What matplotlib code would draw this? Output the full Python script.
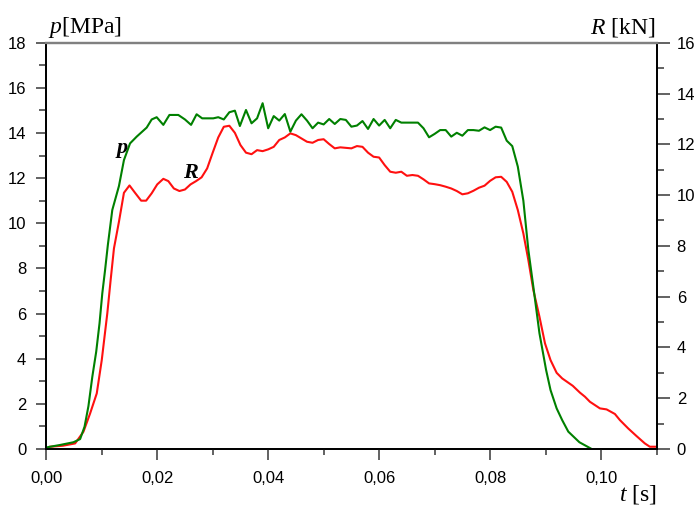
import numpy as np
import matplotlib.pyplot as plt
from matplotlib.ticker import MultipleLocator, FuncFormatter

# p [MPa] - lewa os
t_p = [0.0, 0.0025, 0.0049, 0.0061, 0.0069, 0.0076, 0.0083, 0.009, 0.0096, 0.0101,
       0.0106, 0.0111, 0.0119, 0.0131, 0.014, 0.0151, 0.0163, 0.0181, 0.019, 0.0199,
       0.0211, 0.0222, 0.0238, 0.025, 0.0261, 0.0271, 0.0281, 0.0301, 0.031, 0.032,
       0.033, 0.034, 0.0349, 0.036, 0.037, 0.038, 0.039, 0.040, 0.041, 0.042,
       0.043, 0.044, 0.045, 0.046, 0.047, 0.048, 0.049, 0.050, 0.051, 0.052,
       0.053, 0.054, 0.055, 0.056, 0.057, 0.058, 0.059, 0.060, 0.061, 0.062,
       0.063, 0.064, 0.065, 0.066, 0.067, 0.068, 0.069, 0.070, 0.071, 0.072,
       0.073, 0.074, 0.075, 0.076, 0.077, 0.078, 0.079, 0.080, 0.081, 0.082,
       0.083, 0.084, 0.085, 0.086, 0.0869, 0.0878, 0.0889, 0.0901, 0.0909, 0.092,
       0.093, 0.0941, 0.0961, 0.0981]
p = [0.07, 0.18, 0.3, 0.44, 0.99, 1.9, 3.2, 4.31, 5.57, 6.9,
     7.93, 9.04, 10.59, 11.65, 12.8, 13.54, 13.84, 14.24, 14.6, 14.7,
     14.36, 14.8, 14.8, 14.6, 14.36, 14.83, 14.65, 14.65, 14.7, 14.6,
     14.92, 14.99, 14.31, 15.02, 14.43, 14.65, 15.32, 14.21, 14.75, 14.55,
     14.84, 14.06, 14.55, 14.83, 14.55, 14.21, 14.46, 14.38, 14.62, 14.4,
     14.62, 14.58, 14.28, 14.33, 14.53, 14.18, 14.62, 14.33, 14.58, 14.21,
     14.58, 14.46, 14.46, 14.46, 14.46, 14.21, 13.81, 13.96, 14.13, 14.13,
     13.84, 14.01, 13.88, 14.13, 14.13, 14.1, 14.25, 14.13, 14.28, 14.24,
     13.66, 13.42, 12.51, 11.0, 8.82, 7.19, 5.13, 3.5, 2.61, 1.8,
     1.28, 0.77, 0.3, 0.03]

# R [kN] - prawa os
t_R = [0.0007, 0.003, 0.0052, 0.0067, 0.0079, 0.0091, 0.010, 0.011, 0.0116, 0.0122,
       0.0131, 0.014, 0.015, 0.016, 0.0171, 0.018, 0.019, 0.020, 0.0211, 0.022,
       0.023, 0.024, 0.025, 0.026, 0.027, 0.028, 0.029, 0.030, 0.031, 0.032,
       0.033, 0.034, 0.035, 0.036, 0.037, 0.038, 0.039, 0.040, 0.041, 0.042,
       0.043, 0.044, 0.045, 0.046, 0.047, 0.048, 0.049, 0.050, 0.051, 0.052,
       0.053, 0.054, 0.055, 0.056, 0.057, 0.058, 0.059, 0.060, 0.061, 0.062,
       0.063, 0.064, 0.065, 0.066, 0.067, 0.068, 0.069, 0.070, 0.071, 0.072,
       0.073, 0.074, 0.075, 0.076, 0.077, 0.078, 0.079, 0.080, 0.081, 0.082,
       0.083, 0.084, 0.085, 0.086, 0.0869, 0.0878, 0.0889, 0.0899, 0.0909, 0.092,
       0.093, 0.0949, 0.0962, 0.0971, 0.098, 0.0998, 0.101, 0.1025, 0.1034, 0.1049,
       0.1064, 0.1079, 0.1088, 0.110]
R = [0.09, 0.13, 0.22, 0.68, 1.4, 2.19, 3.5, 5.34, 6.65, 7.9,
     8.95, 10.09, 10.38, 10.09, 9.78, 9.78, 10.07, 10.42, 10.64, 10.55,
     10.26, 10.16, 10.22, 10.42, 10.55, 10.7, 11.05, 11.67, 12.27, 12.69,
     12.73, 12.45, 11.97, 11.67, 11.61, 11.77, 11.73, 11.8, 11.9, 12.17,
     12.27, 12.43, 12.36, 12.23, 12.1, 12.06, 12.17, 12.2, 12.01, 11.84,
     11.88, 11.86, 11.84, 11.93, 11.9, 11.67, 11.51, 11.48, 11.18, 10.92,
     10.88, 10.92, 10.76, 10.79, 10.76, 10.62, 10.46, 10.43, 10.39, 10.33,
     10.26, 10.16, 10.03, 10.07, 10.17, 10.29, 10.37, 10.56, 10.7, 10.72,
     10.52, 10.13, 9.41, 8.49, 7.44, 6.26, 5.21, 4.16, 3.5, 3.0,
     2.78, 2.49, 2.22, 2.06, 1.86, 1.6, 1.56, 1.38, 1.14, 0.81,
     0.51, 0.22, 0.09, 0.09]

plt.rcParams['font.family'] = 'Liberation Sans'
plt.rcParams['mathtext.fontset'] = 'custom'
plt.rcParams['mathtext.rm'] = 'Liberation Serif'
plt.rcParams['mathtext.it'] = 'Liberation Serif:italic'

fig = plt.figure(figsize=(6.99, 5.11), dpi=100)
ax = fig.add_axes([0.0662, 0.1213, 0.873, 0.7951])
ax2 = ax.twinx()
ax.set_zorder(ax2.get_zorder() + 1)
ax.patch.set_visible(False)

ax2.plot(t_R, R, color='#ff1010', lw=1.5)
ax.plot(t_p, p, color='#008000', lw=1.5)

ax.set_xlim(0, 0.11)
ax.set_ylim(0, 18)
ax2.set_ylim(0, 16)

ax.xaxis.set_major_locator(MultipleLocator(0.02))
ax.xaxis.set_minor_locator(MultipleLocator(0.01))
ax.yaxis.set_major_locator(MultipleLocator(2))
ax.yaxis.set_minor_locator(MultipleLocator(1))
ax2.yaxis.set_major_locator(MultipleLocator(2))
ax2.yaxis.set_minor_locator(MultipleLocator(1))
ax.xaxis.set_major_formatter(FuncFormatter(lambda v, pos: f'{v:.2f}'.replace('.', ',')))

ax.tick_params(axis='both', which='major', labelsize=12, color='#555555', width=1.3)
ax.tick_params(axis='y', which='major', length=7.5, pad=7)
ax.tick_params(axis='y', which='minor', length=5, color='#555555', width=1.3)
ax.tick_params(axis='x', which='major', length=8, pad=8)
ax.tick_params(axis='x', which='minor', length=4, color='#555555', width=1.3)
ax2.tick_params(axis='y', which='major', labelsize=12, length=9.5, pad=5, color='#555555', width=1.3)
ax2.tick_params(axis='y', which='minor', length=5, color='#555555', width=1.3)

for a in (ax, ax2):
    a.spines['top'].set_color('#808080')
    a.spines['top'].set_linewidth(1.6)
    for s in ('left', 'right', 'bottom'):
        a.spines[s].set_color('black')
        a.spines[s].set_linewidth(1.3)

# opisy osi
serif = 'Liberation Serif'
fig.text(0.0687, 0.9354, r'$\mathit{p}$[MPa]', family=serif, fontsize=17, va='baseline', ha='left')
fig.text(0.937, 0.9354, r'$\mathit{R}$ [kN]', family=serif, fontsize=17, va='baseline', ha='right')
fig.text(0.9395, 0.0215, r'$\mathit{t}$ [s]', family=serif, fontsize=17, va='baseline', ha='right')

# etykiety krzywych
ax.text(0.0127, 13.1, 'p', family=serif, style='italic', weight='bold',
        fontsize=16, va='baseline', ha='left')
ax.text(0.0246, 12.0, 'R', family=serif, style='italic', weight='bold',
        fontsize=16, va='baseline', ha='left')

fig.savefig('out.png', dpi=100)
